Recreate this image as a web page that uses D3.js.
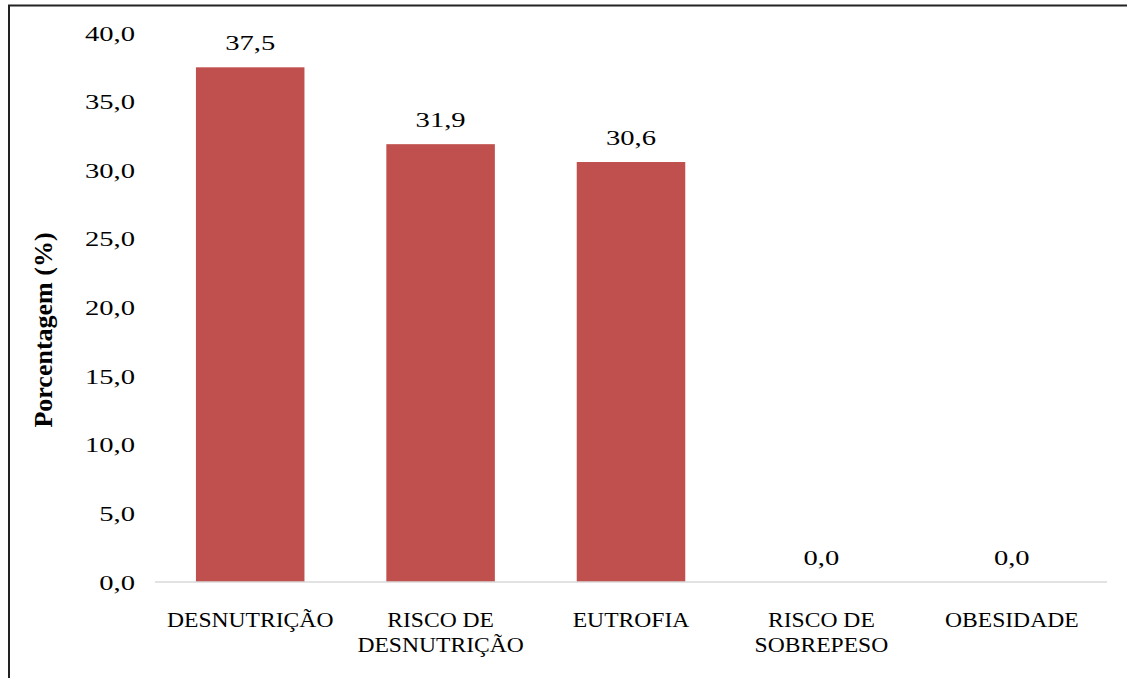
<!DOCTYPE html>
<html>
<head>
<meta charset="utf-8">
<script src="https://cdn.jsdelivr.net/npm/d3@7"></script>
<style>
  body { margin: 0; background: #fff; }
  svg { display: block; }
  text { font-family: "Liberation Serif", "Times New Roman", serif; fill: #000; }
</style>
</head>
<body>
<svg id="chart" width="1127" height="678"></svg>
<script>
// data
var categories = [["DESNUTRIÇÃO"], ["RISCO DE", "DESNUTRIÇÃO"], ["EUTROFIA"], ["RISCO DE", "SOBREPESO"], ["OBESIDADE"]];
var values = [37.5, 31.9, 30.6, 0.0, 0.0];
var yTicks = [0, 5, 10, 15, 20, 25, 30, 35, 40];
var yTitle = "Porcentagem (%)";

var svg = d3.select("#chart");

// the source picture is a bit stretched sideways
var stretchNum = 1.3;
var stretchCat = 1.18;

// frame (left + top edge only visible)
svg.append("path")
    .attr("d", "M9,678 V5.5 H1127")
    .attr("fill", "none")
    .attr("stroke", "#222")
    .attr("stroke-width", 2);

var plotLeft = 155, plotRight = 1107, plotTop = 33, plotBottom = 582;

var x = d3.scaleBand()
    .domain(d3.range(values.length))
    .range([plotLeft, plotRight])
    .paddingInner(0.43)
    .paddingOuter(0.215);

var y = d3.scaleLinear()
    .domain([0, 40])
    .range([plotBottom, plotTop]);

var fmt = function(v) { return d3.format(".1f")(v).replace(".", ","); };

// y axis labels (no axis line)
var yAxis = svg.append("g")
    .attr("transform", "translate(" + (plotLeft - 20) + ",0)")
    .call(d3.axisLeft(y).tickValues(yTicks).tickFormat(fmt).tickSize(0).tickPadding(0));
yAxis.select(".domain").remove();
yAxis.selectAll("text")
    .style("font-family", "Liberation Serif, serif")
    .style("font-size", "22px")
    .attr("fill", "#000")
    .attr("transform", "scale(" + stretchNum + ",1)");

// bars
svg.selectAll("rect.bar")
    .data(values)
    .enter().append("rect")
    .attr("class", "bar")
    .attr("x", function(d, i) { return x(i); })
    .attr("y", function(d) { return y(d); })
    .attr("width", x.bandwidth())
    .attr("height", function(d) { return y(0) - y(d); })
    .attr("fill", "#C0504D");

// baseline
svg.append("line")
    .attr("x1", plotLeft).attr("x2", plotRight)
    .attr("y1", y(0)).attr("y2", y(0))
    .attr("stroke", "#D9D9D9")
    .attr("stroke-width", 1.5);

// data labels
svg.selectAll("text.val")
    .data(values)
    .enter().append("text")
    .attr("class", "val")
    .attr("transform", function(d, i) {
        return "translate(" + (x(i) + x.bandwidth() / 2) + "," + (y(d) - 17) + ") scale(" + stretchNum + ",1)";
    })
    .attr("text-anchor", "middle")
    .style("font-size", "22px")
    .text(fmt);

// category labels
var cat = svg.selectAll("text.cat")
    .data(categories)
    .enter().append("text")
    .attr("class", "cat")
    .attr("transform", function(d, i) {
        return "translate(" + (x(i) + x.bandwidth() / 2) + ",0) scale(" + stretchCat + ",1)";
    })
    .attr("text-anchor", "middle")
    .style("font-size", "20px");
cat.selectAll("tspan")
    .data(function(d) { return d; })
    .enter().append("tspan")
    .attr("x", 0)
    .attr("y", function(d, j) { return 627 + j * 25; })
    .text(function(d) { return d; });

// y title
svg.append("text")
    .attr("transform", "translate(52,330) rotate(-90)")
    .attr("text-anchor", "middle")
    .style("font-size", "26px")
    .style("font-weight", "bold")
    .text(yTitle);
</script>
</body>
</html>
